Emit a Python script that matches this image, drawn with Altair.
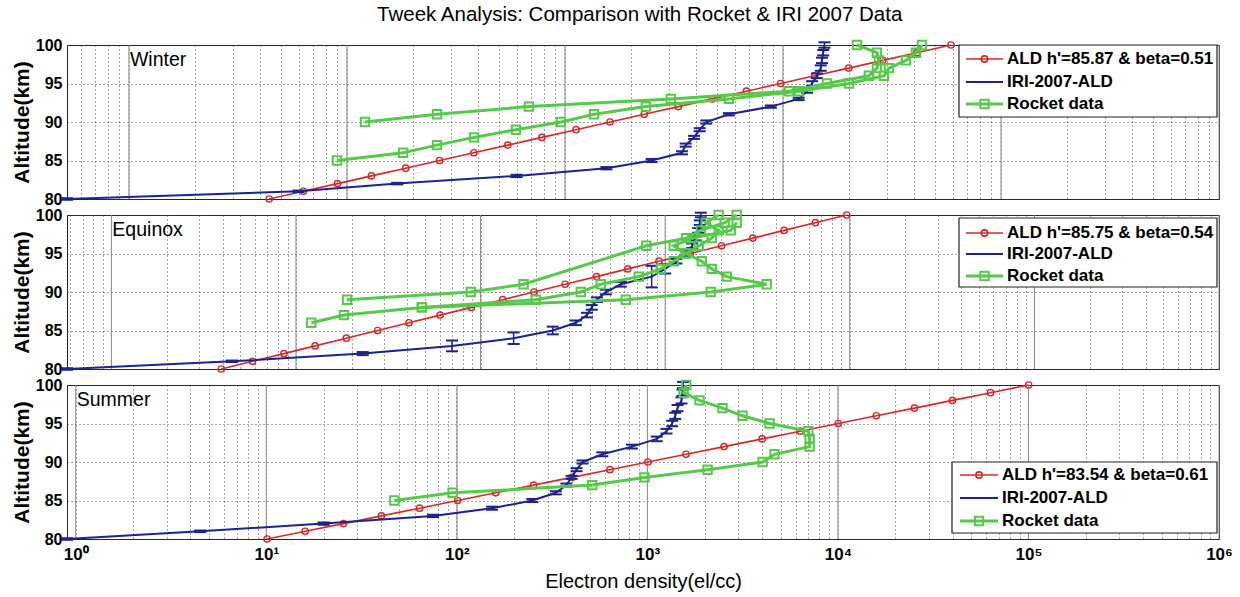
import math
import altair as alt
import pandas as pd

FONT = "Liberation Sans"
RED = "#d42a2a"
BLUE = "#1c2390"
GREEN = "#55c94a"

ALT = list(range(80, 101))

# ALD (Wait model) electron density, el/cc, at 80..100 km
ald_winter = [4.40, 6.31, 9.04, 12.96, 18.6, 26.6, 38.2, 54.7, 78.4, 112.4, 161,
              231, 331, 474, 680, 975, 1397, 2002, 2870, 4113, 5895]
ald_equinox = [3.94, 5.82, 8.60, 12.70, 18.75, 27.7, 40.9, 60.4, 89.2, 131.8, 194.6,
               287, 425, 627, 926, 1368, 2020, 2984, 4407, 6508, 9614]
ald_summer = [10.1, 16.0, 25.4, 40.2, 63.8, 101, 160, 253, 402, 636, 1007,
              1596, 2527, 4005, 6343, 10047, 15913, 25210, 39935, 63250, 100200]

# IRI-2007-ALD profiles and their altitude error half-widths (km)
iri_winter = [0.52, 6.0, 17, 60, 155, 250, 344, 358, 391, 415, 445,
              565, 880, 1180, 1290, 1360, 1430, 1490, 1510, 1530, 1550]
iri_winter_err = [0.1, 0.1, 0.1, 0.15, 0.15, 0.2, 0.2, 0.2, 0.2, 0.2, 0.2,
                  0.15, 0.15, 0.15, 0.2, 0.3, 0.3, 0.35, 0.35, 0.35, 0.35]
iri_equinox = [0.575, 4.5, 23, 70, 151, 246, 328, 377, 400, 427, 477,
               575, 845, 1000, 1150, 1290, 1400, 1465, 1510, 1540, 1560]
iri_equinox_err = [0.1, 0.1, 0.2, 0.7, 0.75, 0.5, 0.3, 0.3, 0.3, 0.3, 0.3,
                   0.3, 1.4, 0.6, 0.3, 0.3, 0.3, 0.3, 0.3, 0.3, 0.3]
iri_summer = [0.9, 4.5, 20, 75, 153, 249, 331, 376, 400, 425, 457,
              580, 830, 1120, 1260, 1350, 1400, 1440, 1510, 1530, 1540]
iri_summer_err = [0.1, 0.1, 0.15, 0.15, 0.2, 0.2, 0.2, 0.2, 0.2, 0.2, 0.2,
                  0.25, 0.25, 0.3, 0.3, 0.35, 0.4, 0.4, 0.4, 0.4, 0.4]

# Rocket profiles (altitude km, electron density el/cc)
winter_rocket_a_alt = list(range(85, 101))
winter_rocket_a = [9.0, 18.1, 25.9, 38.3, 59.6, 95.9, 136, 235, 565, 1184,
                   2009, 2905, 3063, 3665, 4074, 4342]
winter_rocket_b_alt = list(range(90, 101))
winter_rocket_b = [12.1, 25.9, 68.4, 306, 1066, 1592, 2478, 2697, 2754, 2697, 2185]

equinox_rocket_a_alt = [89, 90, 91, 96, 97, 98, 99, 100]
equinox_rocket_a = [18.9, 88.5, 171, 790, 1300, 1560, 2100, 2441]
equinox_rocket_b_alt = list(range(86, 101))
equinox_rocket_b = [12.1, 18.2, 48.1, 199, 349, 448, 719, 946, 1113, 1293, 1521,
                    1788, 1950, 1660, 1950]
equinox_rocket_c_alt = [88, 89, 90, 91, 92, 93, 94, 95, 96, 97, 98, 99]
equinox_rocket_c = [48.1, 612, 1766, 3548, 2158, 1788, 1578, 1293, 1113, 1400, 2265, 2441]

summer_rocket_alt = list(range(85, 101))
summer_rocket = [47, 95, 514, 966, 2070, 4025, 4650, 7110, 7110, 7000,
                 4380, 3160, 2480, 1880, 1550, 1600]

SUP = "['⁰','¹','²','³','⁴','⁵','⁶']"
LOG10 = "log(datum.value)/LN10"
LABEL_EXPR = (f"abs({LOG10} - round({LOG10})) < 0.001 ? "
              f"'10' + {SUP}[round({LOG10})] : ''")

W, H = 1152, 154


def grid_values(lo, hi):
    vals = []
    for k in range(-1, 7):
        for m in range(1, 10):
            v = m * 10.0 ** k
            if lo * 0.999 <= v <= hi * 1.001:
                vals.append(v)
    return vals


def panel(season, xdom, ald, ald_label, iri, iri_err, rockets, leg, bottom):
    grid = grid_values(*xdom)
    decades = [v for v in grid if abs(math.log10(v) - round(math.log10(v))) < 1e-9]
    xaxis = dict(values=grid, grid=True, labels=bottom, ticks=False, domain=False,
                 labelExpr=LABEL_EXPR, labelOverlap=False,
                 labelFont=FONT, labelFontSize=17, labelFontWeight="bold",
                 labelColor="black", labelPadding=7, labelFlush=False,
                 titleFont=FONT, titleFontSize=20, titleFontWeight="normal",
                 titleColor="black", titlePadding=9)
    xscale = alt.Scale(type="log", domain=list(xdom), nice=False)
    yscale = alt.Scale(domain=[80, 100], nice=False, zero=False)
    yaxis = alt.Axis(values=[80, 85, 90, 95, 100], grid=True, ticks=False, domain=False,
                     labelFont=FONT, labelFontSize=16, labelFontWeight="bold",
                     labelColor="black", labelPadding=5,
                     title="Altitude(km)", titleFont=FONT, titleFontSize=21,
                     titleFontWeight="bold", titleColor="black", titlePadding=3,
                     minExtent=32, maxExtent=32)

    def X(field):
        if bottom:
            return alt.X(field, type="quantitative", scale=xscale,
                         axis=alt.Axis(title="Electron density(el/cc)", **xaxis))
        return alt.X(field, type="quantitative", scale=xscale,
                     axis=alt.Axis(title=None, **xaxis))

    def Y(field):
        return alt.Y(field, type="quantitative", scale=yscale, axis=yaxis)

    dec_df = pd.DataFrame({"n": decades})
    major = alt.Chart(dec_df).mark_rule(color="#8a8a8a", strokeWidth=1).encode(x=X("n"))

    ald_df = pd.DataFrame({"h": ALT, "n": ald})
    ald_line = alt.Chart(ald_df).mark_line(color=RED, strokeWidth=1.6).encode(
        x=X("n"), y=Y("h"), order="h:Q")
    ald_pts = alt.Chart(ald_df).mark_point(shape="circle", filled=False, color=RED,
                                           size=40, strokeWidth=1.4, opacity=1).encode(
        x=X("n"), y=Y("h"))

    iri_df = pd.DataFrame({"h": ALT, "n": iri,
                           "lo": [a - e for a, e in zip(ALT, iri_err)],
                           "hi": [a + e for a, e in zip(ALT, iri_err)]})
    iri_line = alt.Chart(iri_df).mark_line(color=BLUE, strokeWidth=2).encode(
        x=X("n"), y=Y("h"), order="h:Q")
    iri_stem = alt.Chart(iri_df).mark_rule(color=BLUE, strokeWidth=1.5).encode(
        x=X("n"), y=Y("lo"), y2="hi")
    iri_cap_lo = alt.Chart(iri_df).mark_rule(color=BLUE, strokeWidth=2,
                                            xOffset=-6, x2Offset=6).encode(
        x=X("n"), x2="n", y=Y("lo"))
    iri_cap_hi = alt.Chart(iri_df).mark_rule(color=BLUE, strokeWidth=2,
                                            xOffset=-6, x2Offset=6).encode(
        x=X("n"), x2="n", y=Y("hi"))

    rows = []
    for pid, (alts, vals) in enumerate(rockets):
        for i, (a, v) in enumerate(zip(alts, vals)):
            rows.append({"p": pid, "i": i, "h": a, "n": v})
    rk_df = pd.DataFrame(rows)
    rk_line = alt.Chart(rk_df).mark_line(color=GREEN, strokeWidth=3).encode(
        x=X("n"), y=Y("h"), detail="p:N", order="i:Q")
    rk_pts = alt.Chart(rk_df).mark_point(shape="square", filled=False, color=GREEN,
                                         size=70, strokeWidth=2, opacity=1).encode(
        x=X("n"), y=Y("h"))

    lab_df = pd.DataFrame({"n": [1.0], "h": [98.0], "t": [season]})
    season_txt = alt.Chart(lab_df).mark_text(
        align="left", baseline="middle", font=FONT, fontSize=19.5, color="black", dx=1
    ).encode(x=X("n"), y=Y("h"), text="t:N")

    # legend box drawn inside the plot area
    bx0, bx1, by0, by1, lx0, lx1, tx, rys = leg
    one = alt.InlineData(values=[{}])
    box = alt.Chart(one).mark_rect(fill="white", stroke="#222222", strokeWidth=1.2).encode(
        x=alt.value(bx0), x2=alt.value(bx1), y=alt.value(by0), y2=alt.value(by1))
    legend_layers = [box]
    entries = [(ald_label, RED, "circle", 40, 1.6),
               ("IRI-2007-ALD", BLUE, None, 0, 2),
               ("Rocket data", GREEN, "square", 70, 3)]
    for (label, col, shape, size, sw), ry in zip(entries, rys):
        legend_layers.append(alt.Chart(one).mark_rule(color=col, strokeWidth=sw).encode(
            x=alt.value(lx0), x2=alt.value(lx1), y=alt.value(ry)))
        if shape:
            legend_layers.append(alt.Chart(one).mark_point(
                shape=shape, filled=False, color=col, size=size,
                strokeWidth=1.6 if shape == "circle" else 2, opacity=1).encode(
                x=alt.value((lx0 + lx1) / 2), y=alt.value(ry)))
        legend_layers.append(alt.Chart(pd.DataFrame({"t": [label]})).mark_text(
            align="left", baseline="middle", font=FONT, fontSize=17,
            fontWeight="bold", color="black").encode(
            x=alt.value(tx), y=alt.value(ry), text="t:N"))

    return alt.layer(major, ald_line, ald_pts, iri_line, iri_stem, iri_cap_lo,
                     iri_cap_hi, rk_line, rk_pts, season_txt,
                     *legend_layers).properties(width=W, height=H)


winter = panel("Winter", (0.52, 1e5), ald_winter, "ALD h'=85.87 & beta=0.51",
               iri_winter, iri_winter_err,
               [(winter_rocket_a_alt, winter_rocket_a), (winter_rocket_b_alt, winter_rocket_b)],
               (892, 1150, 0, 72, 899, 936, 940, [14, 37, 59]), False)
equinox = panel("Equinox", (0.575, 1e6), ald_equinox, "ALD h'=85.75 & beta=0.54",
                iri_equinox, iri_equinox_err,
                [(equinox_rocket_a_alt, equinox_rocket_a),
                 (equinox_rocket_b_alt, equinox_rocket_b),
                 (equinox_rocket_c_alt, equinox_rocket_c)],
                (892, 1150, 3, 72, 899, 936, 940, [18, 39, 61]), False)
summer = panel("Summer", (0.9, 1e6), ald_summer, "ALD h'=83.54 & beta=0.61",
               iri_summer, iri_summer_err,
               [(summer_rocket_alt, summer_rocket)],
               (885, 1150, 77, 148, 893, 931, 935, [90, 113, 136]), True)

chart = alt.vconcat(winter, equinox, summer, spacing=16, bounds="flush").properties(
    title=alt.TitleParams("Tweek Analysis: Comparison with Rocket & IRI 2007 Data",
                          font=FONT, fontSize=20.5, fontWeight="normal", color="black",
                          anchor="middle", offset=11, dx=18),
    padding={"left": 10, "top": 4, "right": 5, "bottom": 5},
    background="white",
).configure_view(stroke="#222222", strokeWidth=1).configure_axis(
    gridColor="#3a3a3a", gridDash=[1, 3], gridWidth=1, gridOpacity=0.9)

chart.save("out.html", embed_options={"renderer": "svg", "actions": False})
